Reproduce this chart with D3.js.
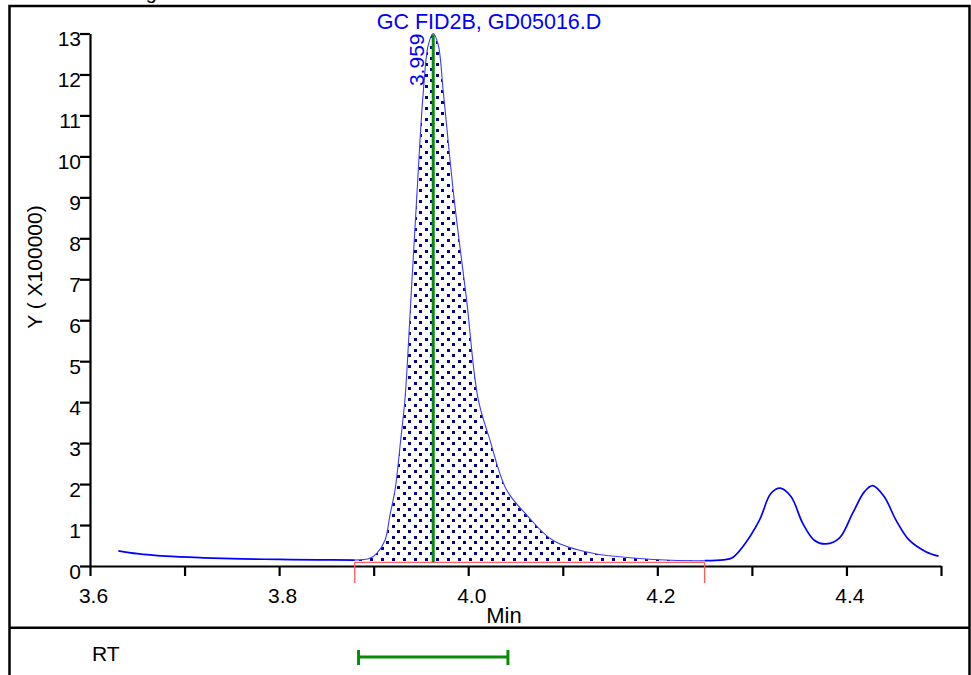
<!DOCTYPE html>
<html>
<head>
<meta charset="utf-8">
<script src="https://cdn.jsdelivr.net/npm/d3@7"></script>
<style>
  html, body { margin: 0; padding: 0; background: #fff; }
  svg { display: block; }
  text { font-family: "Liberation Sans", Arial, sans-serif; }
</style>
</head>
<body>
<svg id="chart" width="971" height="675"></svg>
<script>
// ---- data ----
const retentionTimes = [3.630, 3.650, 3.680, 3.720, 3.760, 3.800, 3.840, 3.880, 3.896, 3.9033, 3.912, 3.9173, 3.9226, 3.9286, 3.9332, 3.9393, 3.9455, 3.9525, 3.9578, 3.963, 3.9683, 3.9736, 3.985, 3.9983, 4.0103, 4.0229, 4.0405, 4.0617, 4.0894, 4.1317, 4.178, 4.215, 4.250, 4.270, 4.2798, 4.2904, 4.308, 4.320, 4.330, 4.3415, 4.3538, 4.366, 4.3785, 4.3925, 4.4066, 4.4189, 4.4277, 4.440, 4.4524, 4.4664, 4.484, 4.4974];
const signalValues   = [0.37, 0.30, 0.24, 0.20, 0.175, 0.16, 0.15, 0.145, 0.19, 0.31, 0.63, 1.25, 1.86, 3.08, 4.10, 6.49, 8.98, 11.58, 12.72, 13.0, 12.72, 11.58, 8.98, 6.49, 4.10, 3.08, 1.86, 1.25, 0.63, 0.31, 0.19, 0.14, 0.13, 0.15, 0.21, 0.47, 1.12, 1.77, 1.90, 1.69, 1.04, 0.63, 0.54, 0.68, 1.29, 1.81, 1.96, 1.69, 1.12, 0.63, 0.35, 0.24];
const integrationWindow = [3.880, 4.250];
const integrationBaseline = 0.09;
const peakApexTime = 3.963;
const peakApexValue = 13.0;
const peakLabel = "3.959";
const rtWindow = [3.884, 4.042];
const xTickValues = [3.6, 3.7, 3.8, 3.9, 4.0, 4.1, 4.2, 4.3, 4.4, 4.5];
const xTickLabels = ["3.6", "", "3.8", "", "4.0", "", "4.2", "", "4.4", ""];
const yTickValues = [0, 1, 2, 3, 4, 5, 6, 7, 8, 9, 10, 11, 12, 13];
const chartTitle = "GC FID2B, GD05016.D";
const xAxisTitle = "Min";
const yAxisTitle = "Y ( X100000)";
const topCutText = "Signal";
const rtRowLabel = "RT";

const trace = retentionTimes.map((t, i) => ({ t, v: signalValues[i] }));

// ---- layout ----
const svg = d3.select("#chart");
const x = d3.scaleLinear().domain([3.6, 4.5]).range([90, 941]);
const y = d3.scaleLinear().domain([0, 13]).range([566, 33.5]);
const curve = d3.curveCatmullRom.alpha(0.5);

// pattern
const defs = svg.append("defs");
const pat = defs.append("pattern")
  .attr("id", "dots").attr("patternUnits", "userSpaceOnUse")
  .attr("width", 11).attr("height", 11).attr("x", 1).attr("y", 2);
pat.append("rect").attr("x", 0).attr("y", 0).attr("width", 3).attr("height", 3).attr("fill", "#00008b").attr("shape-rendering", "crispEdges");
pat.append("rect").attr("x", 5.5).attr("y", 5.5).attr("width", 3).attr("height", 3).attr("fill", "#00008b").attr("shape-rendering", "crispEdges");

// text cut at top
svg.append("text").attr("x", 128).attr("y", -1).attr("font-size", 20).attr("fill", "#000").text(topCutText);

// outer frame
svg.append("rect").attr("x", 9.5).attr("y", 6).attr("width", 960).attr("height", 720)
  .attr("fill", "none").attr("stroke", "#000").attr("stroke-width", 2.5);
svg.append("line").attr("x1", 9.5).attr("x2", 970).attr("y1", 627.8).attr("y2", 627.8)
  .attr("stroke", "#000").attr("stroke-width", 2.5);

// integrated area
const inWin = trace.filter(d => d.t >= integrationWindow[0] && d.t <= integrationWindow[1]);
const area = d3.area().x(d => x(d.t)).y0(y(integrationBaseline)).y1(d => y(d.v)).curve(curve);
svg.append("path").datum(inWin).attr("d", area).attr("fill", "url(#dots)");

// trace
const line = d3.line().x(d => x(d.t)).y(d => y(d.v)).curve(curve);
svg.append("path").datum(inWin).attr("d", line).attr("fill", "none").attr("stroke", "#3a3aff").attr("stroke-width", 1.1);
svg.append("path").datum(trace.filter(d => d.t <= integrationWindow[0])).attr("d", line)
  .attr("fill", "none").attr("stroke", "#0000ff").attr("stroke-width", 1.7);
svg.append("path").datum(trace.filter(d => d.t >= integrationWindow[1])).attr("d", line)
  .attr("fill", "none").attr("stroke", "#0000ff").attr("stroke-width", 1.7);

// axes
const yAxis = d3.axisLeft(y).tickValues(yTickValues).tickSize(10).tickSizeOuter(0).tickPadding(-1).tickFormat(d3.format("d"));
const gy = svg.append("g").attr("transform", "translate(90,0)").call(yAxis);
gy.selectAll("text").attr("dy", "0.58em").attr("font-size", 21).attr("fill", "#000").style("font-family", "Liberation Sans, Arial, sans-serif");

const xAxis = d3.axisBottom(x).tickValues(xTickValues).tickSize(10).tickSizeOuter(0)
  .tickFormat((d, i) => xTickLabels[i]);
const gx = svg.append("g").attr("transform", "translate(0,566)").call(xAxis);
gx.selectAll("text").attr("y", 37).attr("dy", 0).attr("dx", 3).attr("font-size", 21).attr("fill", "#000").style("font-family", "Liberation Sans, Arial, sans-serif");

[gx, gy].forEach(g => {
  g.select(".domain").attr("stroke", "#000").attr("stroke-width", 2.2);
  g.selectAll(".tick line").attr("stroke", "#000").attr("stroke-width", 2.2);
});

// integration baseline (red)
const redColor = "#ff5a5a";
svg.append("line").attr("x1", x(integrationWindow[0])).attr("x2", x(integrationWindow[1]))
  .attr("y1", y(integrationBaseline)).attr("y2", y(integrationBaseline)).attr("stroke", redColor).attr("stroke-width", 1.3);
integrationWindow.forEach(t => {
  svg.append("line").attr("x1", x(t)).attr("x2", x(t)).attr("y1", y(integrationBaseline)).attr("y2", 583)
    .attr("stroke", redColor).attr("stroke-width", 1.3);
});

// apex marker line
svg.append("line").attr("x1", x(peakApexTime)).attr("x2", x(peakApexTime))
  .attr("y1", y(peakApexValue) + 1).attr("y2", y(integrationBaseline))
  .attr("stroke", "#0a8a0a").attr("stroke-width", 3);

// peak label
svg.append("text").attr("transform", `translate(${x(peakApexTime) - 9},${y(peakApexValue)}) rotate(-90)`)
  .attr("text-anchor", "end").attr("font-size", 21).attr("fill", "#0000ff").text(peakLabel);

// titles
svg.append("text").attr("x", 489).attr("y", 29).attr("text-anchor", "middle").attr("font-size", 21.5)
  .attr("fill", "#0000ff").text(chartTitle);
svg.append("text").attr("x", 504).attr("y", 623).attr("text-anchor", "middle").attr("font-size", 22)
  .attr("fill", "#000").text(xAxisTitle);
svg.append("text").attr("transform", "translate(42,267) rotate(-90)").attr("text-anchor", "middle")
  .attr("font-size", 21).attr("fill", "#000").text(yAxisTitle);

// RT row
svg.append("text").attr("x", 92).attr("y", 661).attr("font-size", 21).attr("fill", "#000").text(rtRowLabel);
const rtY = 657;
svg.append("line").attr("x1", x(rtWindow[0])).attr("x2", x(rtWindow[1])).attr("y1", rtY).attr("y2", rtY)
  .attr("stroke", "#0a8a0a").attr("stroke-width", 3);
rtWindow.forEach(t => {
  svg.append("line").attr("x1", x(t)).attr("x2", x(t)).attr("y1", rtY - 7).attr("y2", rtY + 8)
    .attr("stroke", "#0a8a0a").attr("stroke-width", 3);
});
</script>
</body>
</html>
